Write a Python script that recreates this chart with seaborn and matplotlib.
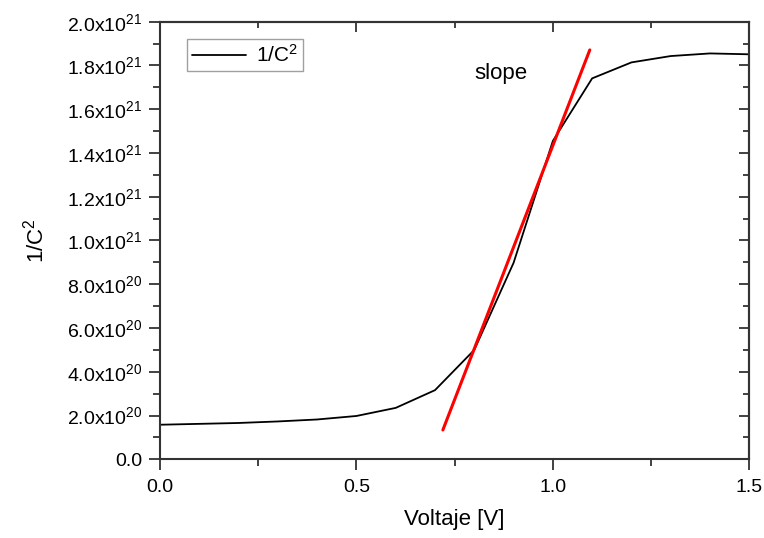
import math
import matplotlib
matplotlib.use("Agg")
import matplotlib.pyplot as plt
import seaborn as sns
import pandas as pd
from matplotlib.ticker import MultipleLocator, FuncFormatter

voltage = [0.0, 0.1, 0.2, 0.3, 0.4, 0.5, 0.6, 0.7, 0.8, 0.9, 1.0, 1.1, 1.2, 1.3, 1.4, 1.5]
inv_c2 = [1.58e20, 1.62e20, 1.66e20, 1.73e20, 1.82e20, 1.98e20, 2.35e20, 3.16e20,
          5.0e20, 8.98e20, 1.455e21, 1.741e21, 1.814e21, 1.843e21, 1.855e21, 1.851e21]
slope_x = [0.72, 1.094]
slope_y = [1.34e20, 1.871e21]
series_label = "1/C$^2$"
slope_text = "slope"

sns.set_theme(style="white")
plt.rcParams['font.family'] = ['Liberation Sans', 'DejaVu Sans']
plt.rcParams['mathtext.fontset'] = 'custom'
plt.rcParams['mathtext.rm'] = 'Liberation Sans'
plt.rcParams['mathtext.it'] = 'Liberation Sans'
plt.rcParams['mathtext.default'] = 'regular'
plt.rcParams['text.color'] = 'black'
plt.rcParams['axes.labelcolor'] = 'black'

df = pd.DataFrame({"V": voltage, "C": inv_c2})
dfs = pd.DataFrame({"V": slope_x, "C": slope_y})

fig = plt.figure(figsize=(7.64, 5.38), dpi=100)
ax = fig.add_axes([160/764, 1 - 459.3/538, 589.3/764, 437.6/538])

sns.lineplot(data=df, x="V", y="C", ax=ax, color="black", lw=1.3, label=series_label)
sns.lineplot(data=dfs, x="V", y="C", ax=ax, color="#ff0000", lw=2.2, label="_nolegend_")

ax.set_xlim(0, 1.5)
ax.set_ylim(0, 2.0e21)
ax.xaxis.set_major_locator(MultipleLocator(0.5))
ax.xaxis.set_minor_locator(MultipleLocator(0.25))
ax.yaxis.set_major_locator(MultipleLocator(2e20))
ax.yaxis.set_minor_locator(MultipleLocator(1e20))

def yfmt(v, pos):
    if abs(v) < 1e10:
        return "0.0"
    e = int(math.floor(math.log10(abs(v)) + 1e-9))
    m = v / 10**e
    return r"%.1fx10$^{%d}$" % (m, e)

ax.yaxis.set_major_formatter(FuncFormatter(yfmt))
ax.xaxis.set_major_formatter(FuncFormatter(lambda v, p: "%.1f" % v))

for s in ax.spines.values():
    s.set_linewidth(1.5)
    s.set_color("#333333")
    s.set_visible(True)

ax.tick_params(axis='both', which='major', direction='out', length=8, width=1.3,
               color="#333333", labelsize=14, labelcolor="black", left=True, bottom=True)
ax.tick_params(axis='both', which='minor', direction='out', length=5, width=1.3,
               color="#333333", left=True, bottom=True)
ax.tick_params(axis='x', which='major', pad=6)
ax.tick_params(axis='y', which='major', pad=5)

secx = ax.secondary_xaxis('top')
secx.xaxis.set_major_locator(MultipleLocator(0.5))
secx.xaxis.set_minor_locator(MultipleLocator(0.25))
secx.tick_params(axis='x', which='major', direction='in', length=7, width=1.3, color="#333333", labeltop=False)
secx.tick_params(axis='x', which='minor', direction='in', length=4, width=1.3, color="#333333")
secx.spines['top'].set_linewidth(1.5)
secx.spines['top'].set_color("#333333")

secy = ax.secondary_yaxis('right')
secy.yaxis.set_major_locator(MultipleLocator(2e20))
secy.yaxis.set_minor_locator(MultipleLocator(1e20))
secy.tick_params(axis='y', which='major', direction='in', length=7, width=1.3, color="#333333", labelright=False)
secy.tick_params(axis='y', which='minor', direction='in', length=4, width=1.3, color="#333333")
secy.spines['right'].set_linewidth(1.5)
secy.spines['right'].set_color("#333333")

ax.set_xlabel("Voltaje [V]", fontsize=16, va="center")
ax.xaxis.set_label_coords(0.5, -(520 - 459.3) / 437.6)
ax.set_ylabel("1/C$^2$", fontsize=16, va="center")
ax.yaxis.set_label_coords(-(160 - 36) / 589.3, 0.5)

ax.text(0.80, 1.765e21, slope_text, fontsize=16, ha="left", va="center")

leg = ax.legend(loc="upper left", bbox_to_anchor=(27/589.3, 1 - 17/437.6), fontsize=15,
                frameon=True, fancybox=False, handlelength=2.6, borderpad=0.25,
                handletextpad=0.45, borderaxespad=0)
leg.get_frame().set_edgecolor("#888888")
leg.get_frame().set_linewidth(1.0)

fig.savefig("out.png", dpi=100)
